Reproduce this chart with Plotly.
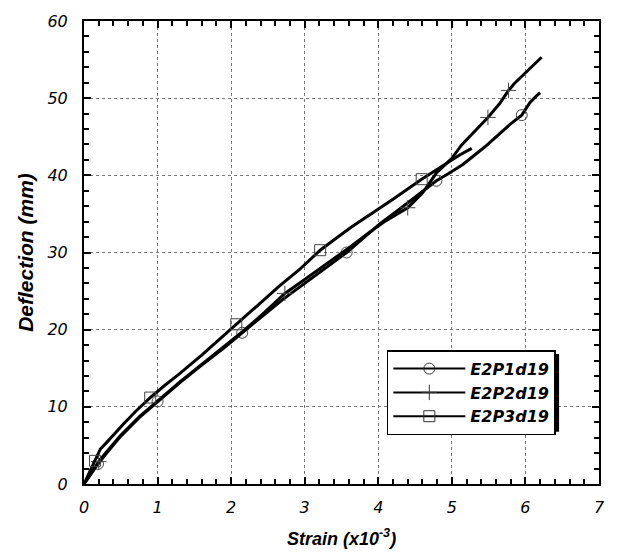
import plotly.graph_objects as go

# ---- data ----
p1_x = [0, 0.1, 0.19, 0.3, 0.5, 0.75, 1.0, 1.3, 1.6, 1.9, 2.15, 2.4, 2.7, 3.0, 3.3, 3.57, 3.8, 4.02, 4.3, 4.55, 4.79, 4.95, 5.15, 5.45, 5.79, 5.95, 6.06, 6.15, 6.2]
p1_y = [0, 1.4, 2.6, 3.9, 6.2, 8.6, 10.7, 13.1, 15.4, 17.6, 19.6, 21.6, 23.9, 26.0, 28.1, 30.0, 31.9, 33.7, 35.7, 37.5, 39.3, 40.2, 41.4, 43.7, 46.6, 47.8, 49.4, 50.3, 50.7]
p1_marks = [2, 6, 10, 15, 20, 25]

p2_x = [0, 0.1, 0.2, 0.3, 0.5, 0.75, 1.0, 1.3, 1.6, 1.9, 2.15, 2.45, 2.73, 3.0, 3.3, 3.6, 3.85, 4.1, 4.4, 4.6, 4.79, 5.0, 5.13, 5.3, 5.49, 5.65, 5.77, 5.85, 6.0, 6.22]
p2_y = [0, 1.5, 2.9, 4.1, 6.3, 8.7, 10.8, 13.2, 15.5, 17.8, 19.7, 22.2, 24.7, 26.5, 28.5, 30.6, 32.4, 34.1, 35.8, 37.7, 40.3, 42.2, 43.9, 45.6, 47.5, 49.3, 51.0, 51.9, 53.3, 55.3]
p2_marks = [2, 12, 18, 24, 26]

p3_x = [0, 0.08, 0.15, 0.22, 0.3, 0.4, 0.53, 0.7, 0.9, 1.1, 1.3, 1.6, 1.85, 2.07, 2.35, 2.65, 2.93, 3.21, 3.45, 3.65, 3.9, 4.2, 4.59, 4.9, 5.1, 5.27]
p3_y = [0, 1.6, 3.0, 4.5, 5.3, 6.4, 7.7, 9.4, 11.2, 12.8, 14.3, 16.7, 18.8, 20.7, 23.0, 25.6, 27.8, 30.3, 32.0, 33.4, 35.0, 36.9, 39.5, 41.4, 42.6, 43.5]
p3_marks = [2, 8, 13, 17, 22]

names = ["E2P1d19", "E2P2d19", "E2P3d19"]
symbols = ["circle-open", "cross-thin-open", "square-open"]

x_ticks = [0, 1, 2, 3, 4, 5, 6, 7]
y_ticks = [0, 10, 20, 30, 40, 50, 60]

FONT = "Liberation Sans, Arial, sans-serif"
TICKFONT = "DejaVu Sans, sans-serif"

fig = go.Figure()
series = [(p1_x, p1_y, p1_marks), (p2_x, p2_y, p2_marks), (p3_x, p3_y, p3_marks)]
for (xs, ys, marks), name, sym in zip(series, names, symbols):
    fig.add_trace(go.Scatter(x=xs, y=ys, mode="lines", showlegend=False,
                             line=dict(color="black", width=3)))
    fig.add_trace(go.Scatter(x=[xs[i] for i in marks], y=[ys[i] for i in marks],
                             mode="markers", showlegend=False,
                             marker=dict(symbol=sym, size=11, color="#444",
                                         line=dict(width=1, color="#444"))))
for name, sym in zip(names, symbols):
    fig.add_trace(go.Scatter(x=[None], y=[None], mode="lines+markers", name=name,
                             line=dict(color="black", width=2),
                             marker=dict(symbol=sym, size=11, color="#333",
                                         line=dict(width=1, color="#333"))))

axis_common = dict(
    showline=True, linecolor="black", linewidth=2, mirror="allticks",
    ticks="inside", ticklen=7, tickwidth=1.5, tickcolor="black",
    showgrid=True, gridcolor="#777", griddash="dot", gridwidth=1,
    zeroline=False,
    tickfont=dict(family=TICKFONT, size=16, color="black", style="italic"),
)

fig.update_xaxes(range=[0, 7], tickvals=x_ticks, ticktext=[str(v) for v in x_ticks],
                 ticklabelstandoff=8,
                 minor=dict(dtick=0.2, ticks="inside", ticklen=5, tickcolor="black", showgrid=False),
                 title=dict(text="<b><i>Strain (x10<sup>-3</sup>)</i></b>",
                            font=dict(family=FONT, size=18, color="black"), standoff=16),
                 **axis_common)
fig.update_yaxes(range=[0, 60], tickvals=y_ticks, ticktext=[str(v) for v in y_ticks],
                 ticklabelstandoff=11,
                 minor=dict(dtick=2, ticks="inside", ticklen=5, tickcolor="black", showgrid=False),
                 title=dict(text="<b><i>Deflection (mm)</i></b>",
                            font=dict(family=FONT, size=21, color="black"), standoff=8),
                 **axis_common)

# legend drop shadow
fig.add_shape(type="rect", xref="paper", yref="paper",
              x0=0.596, x1=0.9225, y0=0.113, y1=0.281,
              fillcolor="black", line=dict(width=0), layer="above")

fig.update_layout(
    width=618, height=558,
    margin=dict(l=84, r=19, t=16, b=68),
    paper_bgcolor="white", plot_bgcolor="white",
    showlegend=True,
    legend=dict(x=0.588, y=0.289, xanchor="left", yanchor="top",
                bgcolor="white", bordercolor="black", borderwidth=1.5,
                font=dict(family=TICKFONT, size=16, color="black", style="italic", weight="bold"),
                itemwidth=72, tracegroupgap=0),
)

fig.write_html("out.html")
